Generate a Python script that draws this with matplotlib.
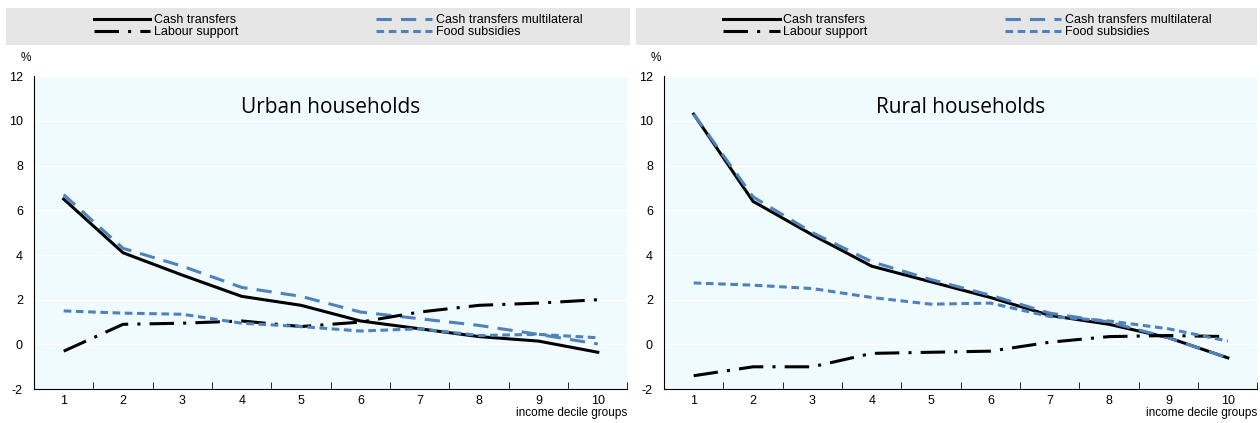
import matplotlib
matplotlib.use("Agg")
import matplotlib.pyplot as plt
from matplotlib.lines import Line2D

plt.rcParams["font.family"] = ["Liberation Sans", "DejaVu Sans"]
plt.rcParams["axes.unicode_minus"] = False

deciles = list(range(1, 11))
urban_cash = [6.5, 4.1, 3.1, 2.15, 1.75, 1.05, 0.7, 0.35, 0.15, -0.35]
urban_multi = [6.7, 4.3, 3.5, 2.55, 2.15, 1.45, 1.15, 0.85, 0.45, 0.02]
urban_labour = [-0.3, 0.9, 0.95, 1.05, 0.8, 1.0, 1.45, 1.75, 1.85, 2.0]
urban_food = [1.5, 1.4, 1.35, 0.95, 0.8, 0.6, 0.7, 0.4, 0.45, 0.3]
rural_cash = [10.3, 6.4, 4.9, 3.5, 2.8, 2.1, 1.3, 0.9, 0.3, -0.6]
rural_multi = [10.3, 6.6, 5.0, 3.7, 2.9, 2.2, 1.4, 1.0, 0.3, -0.6]
rural_labour = [-1.4, -1.0, -1.0, -0.4, -0.35, -0.3, 0.1, 0.35, 0.4, 0.35]
rural_food = [2.75, 2.65, 2.5, 2.1, 1.8, 1.85, 1.25, 1.05, 0.7, 0.15]
yticks = [-2, 0, 2, 4, 6, 8, 10, 12]

BLUE = "#4F81BD"
styles = {
    "Cash transfers": dict(color="black", lw=2.2, ls="-"),
    "Cash transfers multilateral": dict(color=BLUE, lw=2.2, ls=(0, (5, 3))),
    "Labour support": dict(color="black", lw=2.2, ls=(0, (8, 3, 1, 3))),
    "Food subsidies": dict(color=BLUE, lw=2.2, ls=(0, (2.5, 1.5))),
}
legend_order = ["Cash transfers", "Labour support", "Cash transfers multilateral", "Food subsidies"]

fig = plt.figure(figsize=(12.6, 4.23), dpi=100)
panels = [
    ([0.027, 0.08, 0.471, 0.74], "Urban households",
     [urban_cash, urban_multi, urban_labour, urban_food], [0.005, 0.5]),
    ([0.527, 0.08, 0.471, 0.74], "Rural households",
     [rural_cash, rural_multi, rural_labour, rural_food], [0.505, 0.998]),
]
for rect, title, series, lx in panels:
    ax = fig.add_axes(rect)
    ax.set_facecolor("#F0FBFF")
    for (name, st), ys in zip(styles.items(), series):
        ax.plot(deciles, ys, label=name, **st)
    ax.set_xlim(0.5, 10.5)
    ax.set_ylim(-2, 12)
    ax.set_yticks(yticks)
    ax.set_xticks(deciles)
    ax.set_xticks([i + 0.5 for i in range(0, 11)], minor=True)
    ax.tick_params(axis="x", which="major", length=0, labelsize=9, pad=4)
    ax.tick_params(axis="x", which="minor", length=5, direction="in")
    ax.tick_params(axis="y", length=0, labelsize=9, pad=8)
    ax.grid(axis="y", color="white", lw=1)
    for s in ["top", "right"]:
        ax.spines[s].set_visible(False)
    ax.text(0.5, 0.9, title, transform=ax.transAxes, ha="center", va="center",
            fontsize=15, family="Open Sans")
    ax.text(1.0, -0.077, "income decile groups", transform=ax.transAxes,
            ha="right", va="center", fontsize=8.5)
    ax.text(-0.022, 1.04, "%", transform=ax.transAxes, ha="left", va="bottom", fontsize=8.5)
    lax = fig.add_axes([lx[0], 0.894, lx[1] - lx[0], 0.087])
    lax.set_facecolor("#E6E6E6")
    lax.set_xticks([]); lax.set_yticks([])
    for s in lax.spines.values():
        s.set_visible(False)
    handles = [Line2D([], [], **styles[k]) for k in legend_order]
    lax.legend(handles, legend_order, loc="center left", bbox_to_anchor=(0.13, 0.5),
               ncol=2, frameon=False, fontsize=9, handlelength=4.5, columnspacing=11,
               labelspacing=0.0, borderpad=0.0, handletextpad=0.3)

fig.savefig("out.png", dpi=100)
